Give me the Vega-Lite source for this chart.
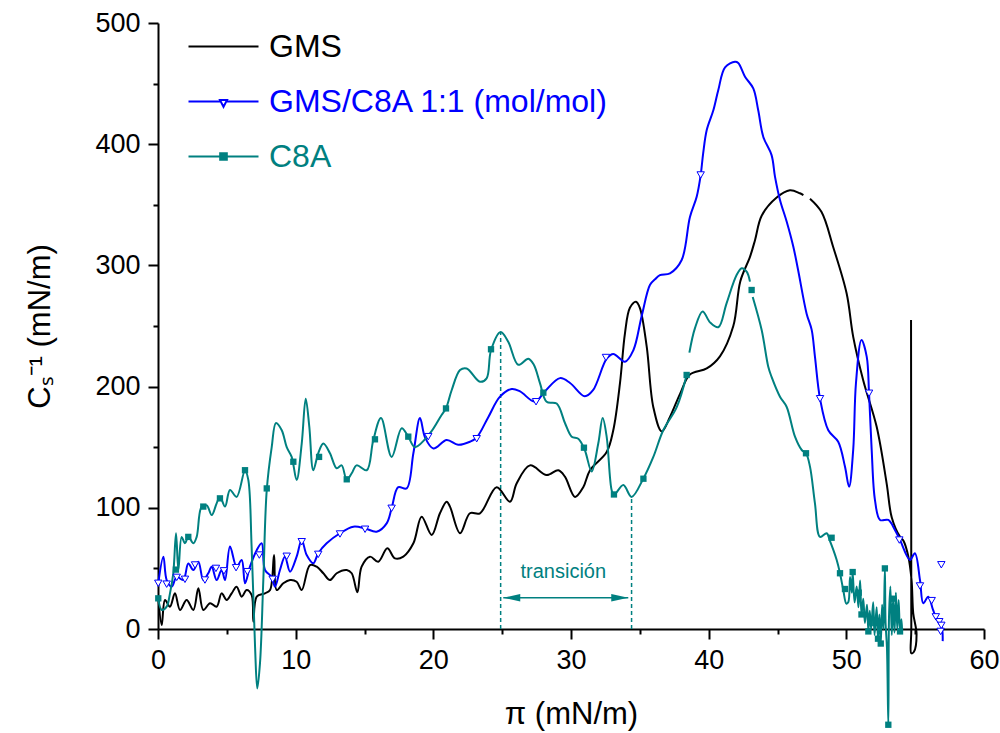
{
"$schema": "https://vega.github.io/schema/vega-lite/v6.json",
"autosize": "none",
"width": 826, "height": 606,
"padding": {"left": 158, "top": 23, "right": 16, "bottom": 104},
"background": "white",
"config": {"view": {"stroke": null}, "font": "Liberation Sans"},
"datasets": {
"curves": [
{"s":"g","k":"g1","x":0.02,"y":26.7},{"s":"g","k":"g1","x":0.27,"y":3.3},{"s":"g","k":"g1","x":0.51,"y":23.9},{"s":"g","k":"g1","x":0.87,"y":18.4},{"s":"g","k":"g1","x":1.23,"y":29.4},{"s":"g","k":"g1","x":1.6,"y":15.7},{"s":"g","k":"g1","x":2.08,"y":23.9},{"s":"g","k":"g1","x":2.57,"y":15.7},{"s":"g","k":"g1","x":2.93,"y":33.6},{"s":"g","k":"g1","x":3.29,"y":15.7},{"s":"g","k":"g1","x":3.78,"y":21.2},{"s":"g","k":"g1","x":4.26,"y":18.4},{"s":"g","k":"g1","x":4.62,"y":29.4},{"s":"g","k":"g1","x":4.99,"y":23.9},{"s":"g","k":"g1","x":5.35,"y":29.4},{"s":"g","k":"g1","x":5.71,"y":34.9},{"s":"g","k":"g1","x":6.08,"y":26.7},{"s":"g","k":"g1","x":6.44,"y":32.2},{"s":"g","k":"g1","x":6.8,"y":28.1},{"s":"g","k":"g1","x":6.93,"y":6},{"s":"g","k":"g1","x":7.17,"y":26.7},{"s":"g","k":"g1","x":7.77,"y":29.4},{"s":"g","k":"g1","x":8.14,"y":32.2},{"s":"g","k":"g1","x":8.43,"y":61},{"s":"g","k":"g1","x":8.62,"y":32.2},{"s":"g","k":"g1","x":9.1,"y":37.7},{"s":"g","k":"g1","x":9.59,"y":40.4},{"s":"g","k":"g1","x":10.07,"y":39},{"s":"g","k":"g1","x":10.44,"y":32.2},{"s":"g","k":"g1","x":11.04,"y":52.8},{"s":"g","k":"g1","x":11.53,"y":51.4},{"s":"g","k":"g1","x":12.01,"y":46},{"s":"g","k":"g1","x":12.49,"y":40.4},{"s":"g","k":"g1","x":12.98,"y":46},{"s":"g","k":"g1","x":13.71,"y":48.7},{"s":"g","k":"g1","x":14.07,"y":46},{"s":"g","k":"g1","x":14.48,"y":30.3},{"s":"g","k":"g1","x":14.79,"y":51.4},{"s":"g","k":"g1","x":15.4,"y":59.7},{"s":"g","k":"g1","x":16.0,"y":55.5},{"s":"g","k":"g1","x":16.66,"y":66.6},{"s":"g","k":"g1","x":17.21,"y":58.3},{"s":"g","k":"g1","x":17.82,"y":59.7},{"s":"g","k":"g1","x":18.55,"y":70.7},{"s":"g","k":"g1","x":19.15,"y":92.7},{"s":"g","k":"g1","x":19.88,"y":77.6},{"s":"g","k":"g1","x":20.48,"y":95.5},{"s":"g","k":"g1","x":20.97,"y":105},{"s":"g","k":"g1","x":21.21,"y":101},{"s":"g","k":"g1","x":21.94,"y":79},{"s":"g","k":"g1","x":22.66,"y":95.5},{"s":"g","k":"g1","x":23.39,"y":95.5},{"s":"g","k":"g1","x":24.6,"y":117},{"s":"g","k":"g1","x":25.57,"y":105},{"s":"g","k":"g1","x":26.05,"y":120},{"s":"g","k":"g1","x":27.02,"y":135},{"s":"g","k":"g1","x":28.23,"y":127},{"s":"g","k":"g1","x":29.08,"y":131},{"s":"g","k":"g1","x":29.56,"y":125.7},{"s":"g","k":"g1","x":30.29,"y":109},{"s":"g","k":"g1","x":30.89,"y":117},{"s":"g","k":"g1","x":31.38,"y":131},{"s":"g","k":"g1","x":32.59,"y":146},{"s":"g","k":"g1","x":33.07,"y":164},{"s":"g","k":"g1","x":33.56,"y":203},{"s":"g","k":"g1","x":33.92,"y":244},{"s":"g","k":"g1","x":34.28,"y":265},{"s":"g","k":"g1","x":34.72,"y":270},{"s":"g","k":"g1","x":35.0,"y":265},{"s":"g","k":"g1","x":35.5,"y":233},{"s":"g","k":"g1","x":35.98,"y":183},{"s":"g","k":"g1","x":36.59,"y":163},{"s":"g","k":"g1","x":37.19,"y":175},{"s":"g","k":"g1","x":37.92,"y":194},{"s":"g","k":"g1","x":38.64,"y":210},{"s":"g","k":"g1","x":39.86,"y":215},{"s":"g","k":"g1","x":40.82,"y":225},{"s":"g","k":"g1","x":41.79,"y":250},{"s":"g","k":"g1","x":42.3,"y":287},{"s":"g","k":"g1","x":43.0,"y":307},{"s":"g","k":"g1","x":43.37,"y":321},{"s":"g","k":"g1","x":43.85,"y":341},{"s":"g","k":"g1","x":44.94,"y":356},{"s":"g","k":"g1","x":45.9,"y":362},{"s":"g","k":"g1","x":46.63,"y":359.5},{"s":"g","k":"g1","x":46.88,"y":358},
{"s":"g","k":"g2","x":47.36,"y":355},{"s":"g","k":"g2","x":48.2,"y":344},{"s":"g","k":"g2","x":49.05,"y":315},{"s":"g","k":"g2","x":50.02,"y":277},{"s":"g","k":"g2","x":50.5,"y":241},{"s":"g","k":"g2","x":51.23,"y":205},{"s":"g","k":"g2","x":52.2,"y":167},{"s":"g","k":"g2","x":52.93,"y":120},{"s":"g","k":"g2","x":53.3,"y":92},{"s":"g","k":"g2","x":53.9,"y":76},{"s":"g","k":"g2","x":54.14,"y":73},{"s":"g","k":"g2","x":54.5,"y":60},{"s":"g","k":"g2","x":54.74,"y":40},{"s":"g","k":"g2","x":54.86,"y":13},{"s":"g","k":"g2","x":55.1,"y":-4},{"s":"g","k":"g2","x":54.9,"y":-19},{"s":"g","k":"g2","x":54.72,"y":-20},{"s":"g","k":"g2","x":54.72,"y":0},{"s":"g","k":"g2","x":54.7,"y":255},
{"s":"b","k":"b1","x":0.02,"y":37.7},{"s":"b","k":"b1","x":0.39,"y":59.7},{"s":"b","k":"b1","x":0.63,"y":40.4},{"s":"b","k":"b1","x":1.0,"y":35},{"s":"b","k":"b1","x":1.36,"y":43},{"s":"b","k":"b1","x":1.84,"y":40.4},{"s":"b","k":"b1","x":2.2,"y":54},{"s":"b","k":"b1","x":2.57,"y":48.7},{"s":"b","k":"b1","x":2.93,"y":55.5},{"s":"b","k":"b1","x":3.29,"y":40.4},{"s":"b","k":"b1","x":3.65,"y":46},{"s":"b","k":"b1","x":3.9,"y":51.4},{"s":"b","k":"b1","x":4.26,"y":40.4},{"s":"b","k":"b1","x":4.62,"y":48.7},{"s":"b","k":"b1","x":4.87,"y":40.4},{"s":"b","k":"b1","x":5.23,"y":68},{"s":"b","k":"b1","x":5.71,"y":51.4},{"s":"b","k":"b1","x":6.08,"y":57},{"s":"b","k":"b1","x":6.32,"y":37.7},{"s":"b","k":"b1","x":6.68,"y":51.4},{"s":"b","k":"b1","x":7.17,"y":65},{"s":"b","k":"b1","x":7.53,"y":70.7},{"s":"b","k":"b1","x":7.77,"y":48.7},{"s":"b","k":"b1","x":8.26,"y":43},{"s":"b","k":"b1","x":8.5,"y":35},{"s":"b","k":"b1","x":8.86,"y":48.7},{"s":"b","k":"b1","x":9.22,"y":59.7},{"s":"b","k":"b1","x":9.59,"y":47.3},{"s":"b","k":"b1","x":10.07,"y":59.7},{"s":"b","k":"b1","x":10.44,"y":73.4},{"s":"b","k":"b1","x":10.8,"y":61},{"s":"b","k":"b1","x":11.28,"y":54.2},{"s":"b","k":"b1","x":11.64,"y":62.5},{"s":"b","k":"b1","x":12.25,"y":70.7},{"s":"b","k":"b1","x":13.22,"y":79},{"s":"b","k":"b1","x":14.19,"y":84.4},{"s":"b","k":"b1","x":15.04,"y":83},{"s":"b","k":"b1","x":15.88,"y":80.3},{"s":"b","k":"b1","x":16.61,"y":87.2},{"s":"b","k":"b1","x":16.97,"y":99.6},{"s":"b","k":"b1","x":17.45,"y":117},{"s":"b","k":"b1","x":18.06,"y":116},{"s":"b","k":"b1","x":18.55,"y":145},{"s":"b","k":"b1","x":19.03,"y":174},{"s":"b","k":"b1","x":19.4,"y":158},{"s":"b","k":"b1","x":20.0,"y":149},{"s":"b","k":"b1","x":20.97,"y":156},{"s":"b","k":"b1","x":21.8,"y":152},{"s":"b","k":"b1","x":22.66,"y":154.5},{"s":"b","k":"b1","x":23.15,"y":158},{"s":"b","k":"b1","x":24.0,"y":175},{"s":"b","k":"b1","x":24.84,"y":191.7},{"s":"b","k":"b1","x":25.69,"y":198},{"s":"b","k":"b1","x":26.3,"y":196},{"s":"b","k":"b1","x":27.38,"y":187.5},{"s":"b","k":"b1","x":28.1,"y":196},{"s":"b","k":"b1","x":29.2,"y":207},{"s":"b","k":"b1","x":29.93,"y":203},{"s":"b","k":"b1","x":31.0,"y":192},{"s":"b","k":"b1","x":31.6,"y":197},{"s":"b","k":"b1","x":32.59,"y":223},{"s":"b","k":"b1","x":33.07,"y":227},{"s":"b","k":"b1","x":33.92,"y":220.5},{"s":"b","k":"b1","x":34.53,"y":230},{"s":"b","k":"b1","x":35.13,"y":258},{"s":"b","k":"b1","x":35.74,"y":284},{"s":"b","k":"b1","x":36.1,"y":288.5},{"s":"b","k":"b1","x":36.46,"y":292},{"s":"b","k":"b1","x":37.19,"y":293.5},{"s":"b","k":"b1","x":38.04,"y":304.5},{"s":"b","k":"b1","x":38.64,"y":340},{"s":"b","k":"b1","x":39.13,"y":356.7},{"s":"b","k":"b1","x":39.42,"y":374.6},{"s":"b","k":"b1","x":39.6,"y":392.5},{"s":"b","k":"b1","x":39.86,"y":411.7},{"s":"b","k":"b1","x":40.34,"y":428},{"s":"b","k":"b1","x":40.7,"y":444.7},{"s":"b","k":"b1","x":41.19,"y":463.4},{"s":"b","k":"b1","x":41.91,"y":468},{"s":"b","k":"b1","x":42.15,"y":467},{"s":"b","k":"b1","x":42.64,"y":455.7},{"s":"b","k":"b1","x":43.24,"y":446},{"s":"b","k":"b1","x":43.6,"y":428},{"s":"b","k":"b1","x":43.97,"y":406},{"s":"b","k":"b1","x":44.57,"y":391},{"s":"b","k":"b1","x":44.82,"y":373},{"s":"b","k":"b1","x":45.18,"y":354},{"s":"b","k":"b1","x":45.67,"y":336},{"s":"b","k":"b1","x":46.15,"y":315.4},{"s":"b","k":"b1","x":46.5,"y":296},{"s":"b","k":"b1","x":47.12,"y":260},{"s":"b","k":"b1","x":47.48,"y":247},{"s":"b","k":"b1","x":47.72,"y":224.7},{"s":"b","k":"b1","x":48.09,"y":190},{"s":"b","k":"b1","x":48.69,"y":164},{"s":"b","k":"b1","x":49.41,"y":154.5},{"s":"b","k":"b1","x":49.9,"y":134},{"s":"b","k":"b1","x":50.2,"y":117.4},{"s":"b","k":"b1","x":50.5,"y":148},{"s":"b","k":"b1","x":50.7,"y":203},{"s":"b","k":"b1","x":51.1,"y":238.5},{"s":"b","k":"b1","x":51.48,"y":224.7},{"s":"b","k":"b1","x":51.65,"y":194.5},{"s":"b","k":"b1","x":51.84,"y":148},{"s":"b","k":"b1","x":52.08,"y":106.4},{"s":"b","k":"b1","x":52.45,"y":90},{"s":"b","k":"b1","x":53.05,"y":90},{"s":"b","k":"b1","x":53.53,"y":81.7},{"s":"b","k":"b1","x":53.9,"y":73.4},{"s":"b","k":"b1","x":54.62,"y":57},{"s":"b","k":"b1","x":54.98,"y":62.5},{"s":"b","k":"b1","x":55.35,"y":40.4},{"s":"b","k":"b1","x":55.59,"y":21.2},{"s":"b","k":"b1","x":55.95,"y":26.7},{"s":"b","k":"b1","x":56.3,"y":15.7},{"s":"b","k":"b1","x":56.6,"y":7.4},{"s":"b","k":"b1","x":56.92,"y":2},{"s":"b","k":"b1","x":57.0,"y":-10},
{"s":"c","k":"c1","x":0.02,"y":25.3},{"s":"c","k":"c1","x":0.27,"y":15.7},{"s":"c","k":"c1","x":0.63,"y":18.4},{"s":"c","k":"c1","x":0.87,"y":29.4},{"s":"c","k":"c1","x":1.11,"y":46},{"s":"c","k":"c1","x":1.31,"y":79},{"s":"c","k":"c1","x":1.48,"y":48.7},{"s":"c","k":"c1","x":1.72,"y":76},{"s":"c","k":"c1","x":1.96,"y":70.7},{"s":"c","k":"c1","x":2.2,"y":76},{"s":"c","k":"c1","x":2.57,"y":70.7},{"s":"c","k":"c1","x":2.81,"y":76},{"s":"c","k":"c1","x":3.17,"y":101},{"s":"c","k":"c1","x":3.54,"y":102},{"s":"c","k":"c1","x":3.9,"y":94},{"s":"c","k":"c1","x":4.26,"y":103.7},{"s":"c","k":"c1","x":4.5,"y":109},{"s":"c","k":"c1","x":4.87,"y":101},{"s":"c","k":"c1","x":5.23,"y":114.7},{"s":"c","k":"c1","x":5.71,"y":109},{"s":"c","k":"c1","x":6.32,"y":131},{"s":"c","k":"c1","x":6.56,"y":123},{"s":"c","k":"c1","x":6.8,"y":68},{"s":"c","k":"c1","x":7.05,"y":-14.6},{"s":"c","k":"c1","x":7.21,"y":-49},{"s":"c","k":"c1","x":7.41,"y":-28},{"s":"c","k":"c1","x":7.65,"y":40.4},{"s":"c","k":"c1","x":7.9,"y":114.7},{"s":"c","k":"c1","x":8.26,"y":150},{"s":"c","k":"c1","x":8.57,"y":170},{"s":"c","k":"c1","x":8.99,"y":164},{"s":"c","k":"c1","x":9.35,"y":150},{"s":"c","k":"c1","x":9.71,"y":142},{"s":"c","k":"c1","x":10.07,"y":123},{"s":"c","k":"c1","x":10.44,"y":153},{"s":"c","k":"c1","x":10.73,"y":190},{"s":"c","k":"c1","x":10.99,"y":167},{"s":"c","k":"c1","x":11.28,"y":131},{"s":"c","k":"c1","x":11.64,"y":145},{"s":"c","k":"c1","x":12.01,"y":153},{"s":"c","k":"c1","x":12.49,"y":145},{"s":"c","k":"c1","x":12.98,"y":132.6},{"s":"c","k":"c1","x":13.34,"y":135},{"s":"c","k":"c1","x":13.71,"y":123},{"s":"c","k":"c1","x":14.07,"y":128.5},{"s":"c","k":"c1","x":14.43,"y":135},{"s":"c","k":"c1","x":15.16,"y":131},{"s":"c","k":"c1","x":15.64,"y":156},{"s":"c","k":"c1","x":16.2,"y":174},{"s":"c","k":"c1","x":16.97,"y":142},{"s":"c","k":"c1","x":17.7,"y":165.6},{"s":"c","k":"c1","x":18.18,"y":158.7},{"s":"c","k":"c1","x":18.67,"y":150},{"s":"c","k":"c1","x":19.76,"y":161.5},{"s":"c","k":"c1","x":20.6,"y":176.6},{"s":"c","k":"c1","x":20.92,"y":182},{"s":"c","k":"c1","x":21.33,"y":197},{"s":"c","k":"c1","x":21.94,"y":213.7},{"s":"c","k":"c1","x":22.42,"y":215},{"s":"c","k":"c1","x":23.39,"y":204},{"s":"c","k":"c1","x":23.87,"y":206.8},{"s":"c","k":"c1","x":24.19,"y":230},{"s":"c","k":"c1","x":24.89,"y":245},{"s":"c","k":"c1","x":25.44,"y":237},{"s":"c","k":"c1","x":26.17,"y":218},{"s":"c","k":"c1","x":26.9,"y":223},{"s":"c","k":"c1","x":27.3,"y":218},{"s":"c","k":"c1","x":27.75,"y":202.7},{"s":"c","k":"c1","x":28.23,"y":187.5},{"s":"c","k":"c1","x":28.96,"y":186},{"s":"c","k":"c1","x":29.56,"y":170},{"s":"c","k":"c1","x":30.05,"y":158.7},{"s":"c","k":"c1","x":30.53,"y":157},{"s":"c","k":"c1","x":31.0,"y":147.7},{"s":"c","k":"c1","x":31.5,"y":130},{"s":"c","k":"c1","x":31.98,"y":153},{"s":"c","k":"c1","x":32.3,"y":174},{"s":"c","k":"c1","x":32.59,"y":158.7},{"s":"c","k":"c1","x":32.95,"y":114.7},{"s":"c","k":"c1","x":33.12,"y":110.6},{"s":"c","k":"c1","x":33.8,"y":118.8},{"s":"c","k":"c1","x":34.4,"y":109},{"s":"c","k":"c1","x":35.25,"y":124},{"s":"c","k":"c1","x":35.98,"y":142},{"s":"c","k":"c1","x":36.7,"y":164},{"s":"c","k":"c1","x":37.68,"y":183},{"s":"c","k":"c1","x":38.4,"y":209.6},
{"s":"c","k":"c2","x":38.6,"y":228},{"s":"c","k":"c2","x":39.0,"y":248},{"s":"c","k":"c2","x":39.56,"y":262},{"s":"c","k":"c2","x":40.1,"y":253},{"s":"c","k":"c2","x":40.7,"y":249},{"s":"c","k":"c2","x":41.3,"y":268.7},{"s":"c","k":"c2","x":42.03,"y":292},{"s":"c","k":"c2","x":42.4,"y":297.6},{"s":"c","k":"c2","x":42.76,"y":294.8},{"s":"c","k":"c2","x":43.0,"y":286.6},
{"s":"c","k":"c3","x":43.2,"y":274},{"s":"c","k":"c3","x":43.85,"y":246.7},{"s":"c","k":"c3","x":44.33,"y":216.4},{"s":"c","k":"c3","x":44.57,"y":208},{"s":"c","k":"c3","x":45.18,"y":191.7},{"s":"c","k":"c3","x":45.66,"y":183.4},{"s":"c","k":"c3","x":46.27,"y":158.7},{"s":"c","k":"c3","x":46.76,"y":147.7},{"s":"c","k":"c3","x":47.07,"y":145},{"s":"c","k":"c3","x":47.36,"y":134},{"s":"c","k":"c3","x":47.72,"y":103.7},{"s":"c","k":"c3","x":48.09,"y":76},{"s":"c","k":"c3","x":48.57,"y":79},{"s":"c","k":"c3","x":48.8,"y":73},{"s":"c","k":"c3","x":49.3,"y":57},{"s":"c","k":"c3","x":49.54,"y":46},{"s":"c","k":"c3","x":49.78,"y":32},{"s":"c","k":"c3","x":50.0,"y":21},{"s":"c","k":"c3","x":50.14,"y":22},{"s":"c","k":"c3","x":50.27,"y":43},{"s":"c","k":"c3","x":50.4,"y":30},{"s":"c","k":"c3","x":50.46,"y":47},{"s":"c","k":"c3","x":50.6,"y":22},{"s":"c","k":"c3","x":50.75,"y":35},{"s":"c","k":"c3","x":50.88,"y":18},{"s":"c","k":"c3","x":51.0,"y":40},{"s":"c","k":"c3","x":51.1,"y":12},{"s":"c","k":"c3","x":51.23,"y":25},{"s":"c","k":"c3","x":51.35,"y":5},{"s":"c","k":"c3","x":51.5,"y":20},{"s":"c","k":"c3","x":51.6,"y":-2},{"s":"c","k":"c3","x":51.7,"y":15},{"s":"c","k":"c3","x":51.8,"y":0},{"s":"c","k":"c3","x":51.95,"y":22},{"s":"c","k":"c3","x":52.05,"y":-5},{"s":"c","k":"c3","x":52.2,"y":18},{"s":"c","k":"c3","x":52.3,"y":-8},{"s":"c","k":"c3","x":52.4,"y":12},{"s":"c","k":"c3","x":52.5,"y":-12},{"s":"c","k":"c3","x":52.6,"y":20},{"s":"c","k":"c3","x":52.7,"y":0},{"s":"c","k":"c3","x":52.8,"y":50},{"s":"c","k":"c3","x":52.85,"y":5},{"s":"c","k":"c3","x":52.95,"y":-15},{"s":"c","k":"c3","x":53.05,"y":-79},{"s":"c","k":"c3","x":53.1,"y":10},{"s":"c","k":"c3","x":53.2,"y":35},{"s":"c","k":"c3","x":53.3,"y":-5},{"s":"c","k":"c3","x":53.4,"y":25},{"s":"c","k":"c3","x":53.5,"y":-3},{"s":"c","k":"c3","x":53.6,"y":30},{"s":"c","k":"c3","x":53.7,"y":0},{"s":"c","k":"c3","x":53.8,"y":24},{"s":"c","k":"c3","x":53.9,"y":-2},{"s":"c","k":"c3","x":54.0,"y":8},{"s":"c","k":"c3","x":54.05,"y":-1}
],
"marks": [
{"s":"b","x":0.02,"y":37.7},{"s":"b","x":0.63,"y":37},{"s":"b","x":1.36,"y":42.6},{"s":"b","x":1.96,"y":41},{"s":"b","x":2.69,"y":52.8},{"s":"b","x":3.41,"y":40.4},{"s":"b","x":4.21,"y":50},{"s":"b","x":4.79,"y":48},{"s":"b","x":5.67,"y":50.6},{"s":"b","x":6.49,"y":47.3},{"s":"b","x":7.36,"y":61},{"s":"b","x":8.33,"y":41},{"s":"b","x":9.35,"y":60},{"s":"b","x":10.44,"y":72},{"s":"b","x":11.64,"y":61.6},{"s":"b","x":13.22,"y":78.4},{"s":"b","x":15.04,"y":82.3},{"s":"b","x":16.97,"y":99.6},{"s":"b","x":19.63,"y":158.7},{"s":"b","x":23.15,"y":157},{"s":"b","x":27.46,"y":187.5},{"s":"b","x":32.54,"y":224},{"s":"b","x":39.42,"y":374.6},{"s":"b","x":48.09,"y":190},{"s":"b","x":51.65,"y":194.5},{"s":"b","x":53.85,"y":73.4},{"s":"b","x":55.35,"y":35.5},{"s":"b","x":56.2,"y":23.4},{"s":"b","x":56.5,"y":10},{"s":"b","x":56.75,"y":6},{"s":"b","x":56.9,"y":3},{"s":"b","x":56.85,"y":-2},{"s":"b","x":56.9,"y":53},
{"s":"c","x":0.02,"y":25.3},{"s":"c","x":1.3,"y":49},{"s":"c","x":2.2,"y":76},{"s":"c","x":3.29,"y":101},{"s":"c","x":4.5,"y":107.8},{"s":"c","x":6.32,"y":131},{"s":"c","x":7.9,"y":116},{"s":"c","x":9.83,"y":138},{"s":"c","x":11.7,"y":142},{"s":"c","x":13.71,"y":123.5},{"s":"c","x":15.76,"y":156.5},{"s":"c","x":18.18,"y":158.7},{"s":"c","x":20.92,"y":182},{"s":"c","x":24.19,"y":230.8},{"s":"c","x":27.99,"y":195},{"s":"c","x":30.94,"y":149.6},{"s":"c","x":33.12,"y":111},{"s":"c","x":35.26,"y":124},{"s":"c","x":38.4,"y":209.6},{"s":"c","x":43.12,"y":279.7},{"s":"c","x":47.07,"y":145},{"s":"c","x":48.93,"y":75.3},{"s":"c","x":49.54,"y":46},{"s":"c","x":49.9,"y":33},{"s":"c","x":50.46,"y":47},{"s":"c","x":50.9,"y":30},{"s":"c","x":51.1,"y":12},{"s":"c","x":51.6,"y":-2},{"s":"c","x":52.1,"y":5},{"s":"c","x":52.3,"y":-8},{"s":"c","x":52.5,"y":-12},{"s":"c","x":52.8,"y":50},{"s":"c","x":53.05,"y":-79},{"s":"c","x":53.4,"y":25},{"s":"c","x":53.9,"y":-2}
]
},
"encoding": {
"x": {"type": "quantitative", "scale": {"domain": [0, 60], "nice": false, "zero": false}},
"y": {"type": "quantitative", "scale": {"domain": [0, 500], "nice": false, "zero": false}}
},
"resolve": {"scale": {"color": "independent", "shape": "independent"}},
"layer": [
{
"data": {"values": [{"x": 24.89, "y": 0, "y2": 245}, {"x": 34.4, "y": 0, "y2": 109}]},
"mark": {"type": "rule", "color": "#008080", "strokeWidth": 1.5, "strokeDash": [4, 3]},
"encoding": {"x": {"field": "x", "type": "quantitative"}, "y": {"field": "y", "type": "quantitative"}, "y2": {"field": "y2"}}
},
{
"data": {"values": [{"x": 25.08, "x2": 34.16, "y": 25.8}]},
"mark": {"type": "rule", "color": "#008080", "strokeWidth": 1.5},
"encoding": {"x": {"field": "x", "type": "quantitative"}, "x2": {"field": "x2"}, "y": {"field": "y", "type": "quantitative"}}
},
{
"data": {"values": [{"x": 25.08, "y": 25.8, "d": "l"}, {"x": 34.16, "y": 25.8, "d": "r"}]},
"mark": {"type": "point", "filled": true, "color": "#008080", "opacity": 1, "size": 289},
"encoding": {"x": {"field": "x", "type": "quantitative"}, "y": {"field": "y", "type": "quantitative"},
"shape": {"field": "d", "type": "nominal", "legend": null, "scale": {"domain": ["l", "r"], "range": ["M0,0L2,-0.45L2,0.45Z", "M0,0L-2,-0.45L-2,0.45Z"]}}}
},
{
"data": {"values": [{"x": 29.44, "y": 47.3, "t": "transición"}]},
"mark": {"type": "text", "color": "#008080", "fontSize": 20, "font": "Liberation Sans", "baseline": "middle", "align": "center"},
"encoding": {"x": {"field": "x", "type": "quantitative"}, "y": {"field": "y", "type": "quantitative"}, "text": {"field": "t"}}
},
{
"data": {"name": "curves"},
"mark": {"type": "line", "strokeWidth": 2, "interpolate": "catmull-rom"},
"encoding": {
"x": {"field": "x", "type": "quantitative",
"axis": {"values": [0,5,10,15,20,25,30,35,40,45,50,55,60], "labelExpr": "datum.value % 10 === 0 ? datum.label : ''", "tickSize": {"condition": {"test": "datum.value % 10 === 0", "value": 10}, "value": 5}, "grid": false, "domainColor": "black", "domainWidth": 2, "tickColor": "black", "tickWidth": 2, "labelColor": "black", "labelFontSize": 27, "labelFont": "Liberation Sans", "labelPadding": 8, "labelFlush": false, "title": "π (mN/m)", "titleFontSize": 31, "titleFont": "Liberation Sans", "titleFontWeight": "normal", "titleColor": "black", "titlePadding": 26}},
"y": {"field": "y", "type": "quantitative",
"axis": {"values": [0,50,100,150,200,250,300,350,400,450,500], "labelExpr": "datum.value % 100 === 0 ? datum.label : ''", "tickSize": {"condition": {"test": "datum.value % 100 === 0", "value": 10}, "value": 5}, "grid": false, "domainColor": "black", "domainWidth": 2, "tickColor": "black", "tickWidth": 2, "labelColor": "black", "labelFontSize": 27, "labelFont": "Liberation Sans", "labelPadding": 8, "labelFlush": false, "title": "Cₛ⁻¹ (mN/m)", "titleFontSize": 31, "titleFont": "Liberation Sans", "titleFontWeight": "normal", "titleColor": "black", "titlePadding": 38}},
"color": {"field": "s", "type": "nominal", "scale": {"domain": ["g", "b", "c"], "range": ["#000000", "#0000ff", "#008080"]},
"legend": {"orient": "none", "legendX": 47, "legendY": 5, "title": null, "padding": 0, "labelFontSize": 32, "labelFont": "Liberation Sans", "labelLimit": 0, "symbolSize": 1225, "labelOffset": 27, "rowPadding": 20, "symbolStrokeWidth": 2,
"labelExpr": "datum.label === 'g' ? 'GMS' : datum.label === 'b' ? 'GMS/C8A 1:1 (mol/mol)' : 'C8A'",
"encode": {
"symbols": {"update": {
"shape": {"signal": "datum.value === 'g' ? 'M-2,0H2' : datum.value === 'c' ? 'M-2,0H2M-0.19,-0.19H0.19V0.19H-0.19Z' : 'M-2,0H-0.2M0.2,0H2M-0.2,-0.08H0.2L0,0.3Z'"},
"fill": {"signal": "datum.value === 'c' ? '#008080' : datum.value === 'b' ? 'white' : 'transparent'"},
"stroke": {"signal": "datum.value === 'c' ? '#008080' : datum.value === 'b' ? '#0000ff' : '#000000'"},
"strokeWidth": {"value": 2}, "opacity": {"value": 1}}},
"labels": {"update": {"fill": {"signal": "datum.value === 'c' ? '#008080' : datum.value === 'b' ? '#0000ff' : '#000000'"}}}
}}},
"detail": {"field": "k"},
"order": {"value": null}
}
},
{
"data": {"name": "marks"},
"transform": [{"filter": "datum.s === 'b'"}],
"mark": {"type": "point", "shape": "triangle-down", "fill": "white", "stroke": "#0000ff", "strokeWidth": 1, "size": 55, "opacity": 1, "filled": true},
"encoding": {"x": {"field": "x", "type": "quantitative"}, "y": {"field": "y", "type": "quantitative"}}
},
{
"data": {"name": "marks"},
"transform": [{"filter": "datum.s === 'c'"}],
"mark": {"type": "square", "color": "#008080", "size": 40, "opacity": 1},
"encoding": {"x": {"field": "x", "type": "quantitative"}, "y": {"field": "y", "type": "quantitative"}}
}
]
}
